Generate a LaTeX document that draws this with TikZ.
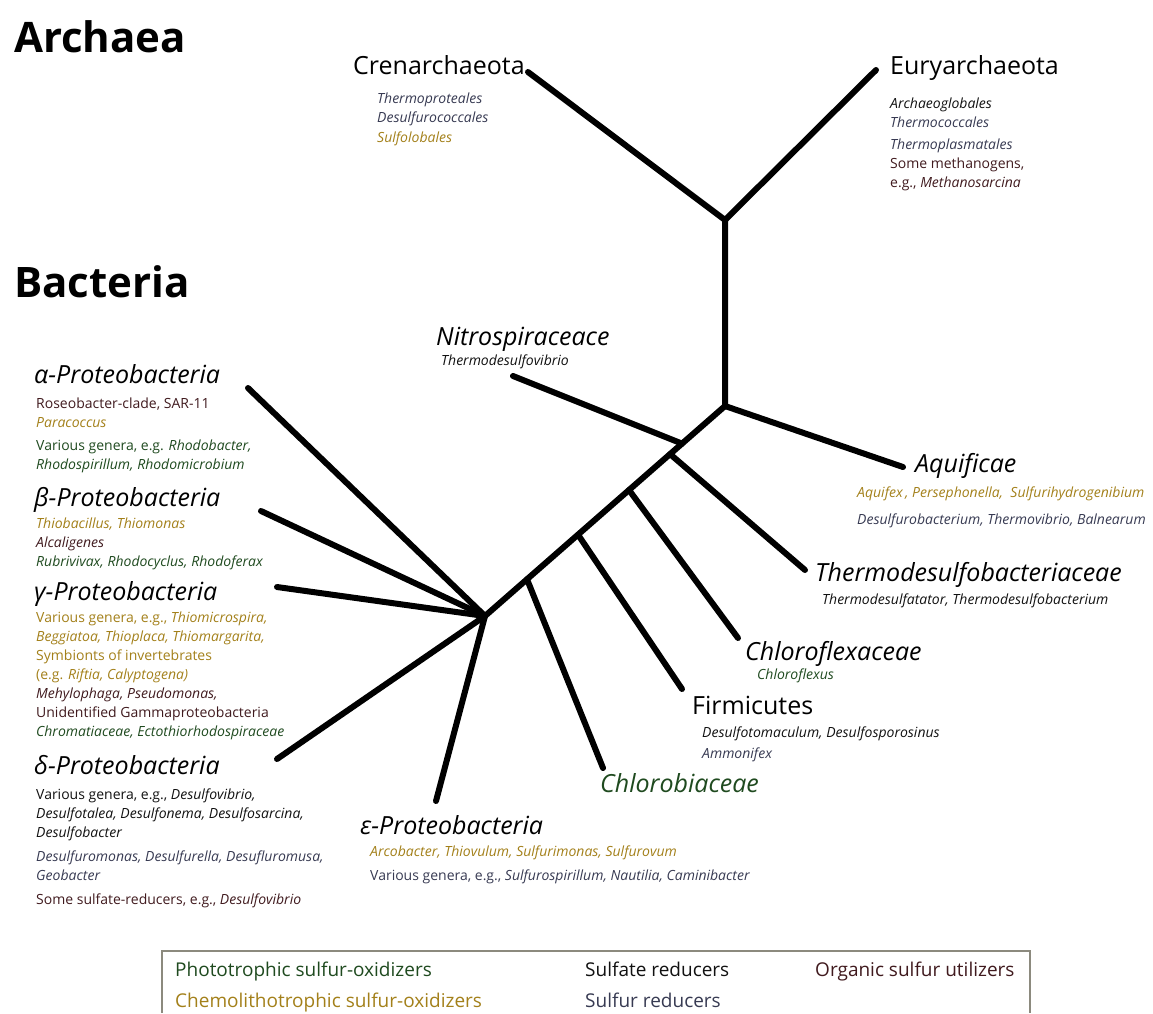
\documentclass[tikz,border=0pt]{standalone}
\usepackage{fontspec}
\setmainfont{Open Sans}
\usepackage{xcolor}
\usetikzlibrary{positioning,calc}
\definecolor{photo}{HTML}{1F4A1F}
\definecolor{chemo}{HTML}{A3801A}
\definecolor{sulfate}{HTML}{111111}
\definecolor{sulfur}{HTML}{373A52}
\definecolor{organic}{HTML}{401A1E}
\definecolor{keyframe}{HTML}{8C8A7E}
\tikzset{
  branch/.style = {line width = 6pt, line cap = round, line join = round},
  kingdom/.style = {anchor = base west, inner sep = 0pt, font = \fontsize{42}{46}\selectfont\bfseries},
  taxon/.style = {anchor = base west, inner sep = 0pt, font = \fontsize{25}{30}\selectfont\itshape},
  taxonup/.style = {anchor = base west, inner sep = 0pt, font = \fontsize{25}{30}\selectfont},
  genera/.style = {anchor = north west, inner sep = 0pt, align = left, font = \fontsize{14}{19}\selectfont\itshape},
  keyentry/.style = {anchor = base west, inner sep = 0pt, font = \fontsize{19}{22}\selectfont}
}

\begin{document}
\begin{tikzpicture}[x = 1pt, y = -1pt]
  \useasboundingbox (0,0) rectangle (1153,1013);
    \node[kingdom] (archaea) at (14,52) {Archaea};
    \node[kingdom] (bacteria) at (14,297) {Bacteria};
    % tree
    \coordinate (archJ) at (725,220);
    \coordinate (bactJ) at (725,406);
    \coordinate (protoJ) at (485,616);
    \coordinate (crenTip) at (528,72);
    \coordinate (euryTip) at (876,70);
    \coordinate (aquifTip) at (903,467);
    \coordinate (nitroJ) at ($(bactJ)!0.179!(protoJ)$);
    \coordinate (thermoJ) at ($(bactJ)!0.229!(protoJ)$);
    \coordinate (flexJ) at ($(bactJ)!0.4!(protoJ)$);
    \coordinate (firmJ) at ($(bactJ)!0.6125!(protoJ)$);
    \coordinate (chlorobJ) at ($(bactJ)!0.825!(protoJ)$);
    \coordinate (nitroTip) at (513,376);
    \coordinate (thermoTip) at (805,570);
    \coordinate (flexTip) at (738,638);
    \coordinate (firmTip) at (682,689);
    \coordinate (chlorobTip) at (603,768);
    \coordinate (alphaTip) at (248,388);
    \coordinate (betaTip) at (261,511);
    \coordinate (gammaTip) at (277,587);
    \coordinate (deltaTip) at (277,759);
    \coordinate (epsTip) at (436,801);
    \draw[branch] (crenTip) -- (archJ) -- (euryTip);
    \draw[branch] (archJ) -- (bactJ) -- (aquifTip);
    \draw[branch] (bactJ) -- (protoJ);
    \draw[branch] (nitroTip) -- (nitroJ);
    \draw[branch] (thermoJ) -- (thermoTip);
    \draw[branch] (flexJ) -- (flexTip);
    \draw[branch] (firmJ) -- (firmTip);
    \draw[branch] (chlorobJ) -- (chlorobTip);
    \foreach \tip in {alphaTip, betaTip, gammaTip, deltaTip, epsTip}
      \draw[branch] (\tip) -- (protoJ);
    % Labels
    \node[taxonup] (cren) at (353,74) {Crenarchaeota};
    \node[genera] (crenGen) at (377,92.5) {\color{sulfur}Thermoproteales\\\color{sulfur}Desulfurococcales\\[1pt]\color{chemo}Sulfolobales};
    \node[taxonup] (eury) at (890,74) {Euryarchaeota};
    \node[genera] (euryGen) at (890,97.5) {\color{sulfate}Archaeoglobales\\\color{sulfur}Thermococcales\\[3pt]\color{sulfur}Thermoplasmatales\\\color{organic}\textup{Some methanogens,}\\\color{organic}\textup{e.g.,} Methanosarcina};
    \node[taxon] (nitro) at (436,345) {Nitrospiraceace};
    \node[genera] (nitroGen) at (441,354.5) {\color{sulfate}Thermodesulfovibrio};
    \node[taxon] (alpha) at (34,383) {α-Proteobacteria};
    \node[genera] (alphaGen) at (36,397.5) {\color{organic}\textup{Roseobacter-clade, SAR-11}\\\color{chemo}Paracoccus\\[4pt]\color{photo}\textup{Various genera, e.g.} Rhodobacter,\\\color{photo}Rhodospirillum, Rhodomicrobium};
    \node[taxon] (beta) at (34,506) {β-Proteobacteria};
    \node[genera] (betaGen) at (36,517.5) {\color{chemo}Thiobacillus, Thiomonas\\\color{organic}Alcaligenes\\\color{photo}Rubrivivax, Rhodocyclus, Rhodoferax};
    \node[taxon] (gamma) at (34,600) {γ-Proteobacteria};
    \node[genera] (gammaGen) at (36,611.5) {\color{chemo}\textup{Various genera, e.g.,} Thiomicrospira,\\\color{chemo}Beggiatoa, Thioplaca, Thiomargarita,\\\color{chemo}\textup{Symbionts of invertebrates}\\\color{chemo}\textup{(e.g.} Riftia, Calyptogena)\\\color{organic}Mehylophaga, Pseudomonas,\\\color{organic}\textup{Unidentified Gammaproteobacteria}\\\color{photo}Chromatiaceae, Ectothiorhodospiraceae};
    \node[taxon] (delta) at (34,774) {δ-Proteobacteria};
    \node[genera] (deltaGen) at (36,788.5) {\color{sulfate}\textup{Various genera, e.g.,} Desulfovibrio,\\\color{sulfate}Desulfotalea, Desulfonema, Desulfosarcina,\\\color{sulfate}Desulfobacter\\[5pt]\color{sulfur}Desulfuromonas, Desulfurella, Desufluromusa,\\\color{sulfur}Geobacter\\[5pt]\color{organic}\textup{Some sulfate-reducers, e.g.,} Desulfovibrio};
    \node[taxon] (eps) at (360,834) {ε-Proteobacteria};
    \node[genera] (epsGen) at (370,845.5) {\color{chemo}Arcobacter, Thiovulum, Sulfurimonas, Sulfurovum\\[5pt]\color{sulfur}\textup{Various genera, e.g.,} Sulfurospirillum, Nautilia, Caminibacter};
    \node[taxon] (aquif) at (915,472) {Aquificae};
    \node[genera] (aquifGen) at (857,486.5) {\color{chemo}Aquifex\,, Persephonella, \ Sulfurihydrogenibium\\[8pt]\color{sulfur}Desulfurobacterium, Thermovibrio, Balnearum};
    \node[taxon] (thermo) at (815,581) {Thermodesulfobacteriaceae};
    \node[genera] (thermoGen) at (822,593.5) {\color{sulfate}Thermodesulfatator, Thermodesulfobacterium};
    \node[taxon] (flex) at (745,660) {Chloroflexaceae};
    \node[genera] (flexGen) at (757,668.5) {\color{photo}Chloroflexus};
    \node[taxonup] (firm) at (692,714) {Firmicutes};
    \node[genera] (firmGen) at (702,726.5) {\color{sulfate}Desulfotomaculum, Desulfosporosinus\\[2pt]\color{sulfur}Ammonifex};
    \node[taxon, text = photo] (chlorob) at (600,792) {Chlorobiaceae};
    % key
    \coordinate (keyBL) at (162,1013);
    \coordinate (keyTL) at (162,951);
    \coordinate (keyTR) at (1030,951);
    \coordinate (keyBR) at (1030,1013);
    \draw[keyframe, line width = 1.5pt] (keyBL) -- (keyTL) -- (keyTR) -- (keyBR);
    \node[keyentry, text = photo] (photoKey) at (175,976) {Phototrophic sulfur-oxidizers};
    \node[keyentry, text = chemo] (chemoKey) at (175,1007) {Chemolithotrophic sulfur-oxidizers};
    \node[keyentry, text = sulfate] (sulfateKey) at (585,976) {Sulfate reducers};
    \node[keyentry, text = sulfur] (sulfurKey) at (585,1007) {Sulfur reducers};
    \node[keyentry, text = organic] (organicKey) at (815,976) {Organic sulfur utilizers};
  \end{tikzpicture}
\end{document}
